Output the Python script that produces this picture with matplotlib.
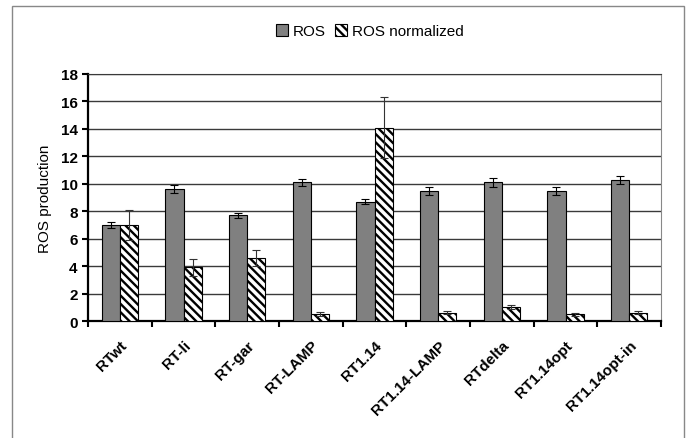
import numpy as np
import matplotlib.pyplot as plt
from matplotlib.patches import Rectangle

plt.rcParams['font.family'] = ['Liberation Sans', 'DejaVu Sans']
plt.rcParams['hatch.linewidth'] = 1.7

samples = ['RTwt', 'RT-li', 'RT-gar', 'RT-LAMP', 'RT1.14', 'RT1.14-LAMP',
           'RTdelta', 'RT1.14opt', 'RT1.14opt-in']
ros = [7.0, 9.6, 7.7, 10.1, 8.7, 9.5, 10.1, 9.5, 10.3]
ros_err = [0.2, 0.3, 0.2, 0.25, 0.2, 0.3, 0.3, 0.3, 0.3]
ros_norm = [7.0, 3.9, 4.6, 0.5, 14.1, 0.6, 1.0, 0.5, 0.6]
ros_norm_err = [1.1, 0.6, 0.6, 0.15, 2.2, 0.1, 0.15, 0.1, 0.1]

x = np.arange(len(samples))
w = 0.285

fig = plt.figure(figsize=(6.86, 4.39), dpi=100)
ax = fig.add_axes([0.1283, 0.2665, 0.8353, 0.5627])

ax.bar(x - w / 2, ros, w, color='#808080', edgecolor='black', linewidth=0.8,
       label='ROS', zorder=3)
ax.bar(x + w / 2, ros_norm, w, color='white', edgecolor='black', linewidth=0.8,
       hatch='\\\\\\\\', label='ROS normalized', zorder=3)
ax.errorbar(x - w / 2, ros, yerr=ros_err, fmt='none', ecolor='black',
            elinewidth=0.8, capsize=3, capthick=0.8, zorder=4)
ax.errorbar(x + w / 2, ros_norm, yerr=ros_norm_err, fmt='none', ecolor='#333333',
            elinewidth=0.8, capsize=3, capthick=0.8, zorder=4)

ax.set_xlim(-0.5, len(samples) - 0.5)
ax.set_ylim(0, 18)
ax.set_yticks(np.arange(0, 19, 2))
ax.yaxis.grid(True, color='#3a3a3a', linewidth=1.0, zorder=0)
ax.set_axisbelow(True)

# ticks at group boundaries, labels at group centres
ax.set_xticks(np.arange(-0.5, len(samples), 1.0))
ax.set_xticklabels([])
ax.set_xticks(x, minor=True)
ax.set_xticklabels(samples, minor=True, rotation=45, ha='right',
                   rotation_mode='anchor', fontsize=11, fontweight='bold')
ax.tick_params(axis='x', which='major', direction='out', length=4, width=1.5)
ax.tick_params(axis='x', which='minor', length=0, pad=12)
ax.tick_params(axis='y', direction='out', length=4, width=1.5,
               labelsize=11)
for lab in ax.get_yticklabels():
    lab.set_fontweight('bold')

ax.spines['left'].set_linewidth(1.6)
ax.spines['bottom'].set_linewidth(1.6)
ax.spines['right'].set_color('#888888')
ax.spines['top'].set_color('#3a3a3a')

ax.set_ylabel('ROS production', fontsize=11, labelpad=6)

fig.legend(loc='center', bbox_to_anchor=(370 / 686, 1 - 32 / 439), ncol=2,
           frameon=False, fontsize=11, handlelength=0.8, handleheight=0.8,
           handletextpad=0.3, columnspacing=0.6)

fig.patches.append(Rectangle((12 / 686, -0.05), 672 / 686, 1.05 - 7 / 439,
                             transform=fig.transFigure, fill=False,
                             edgecolor='#888888', linewidth=1.0))

fig.savefig('out.png', dpi=100)
